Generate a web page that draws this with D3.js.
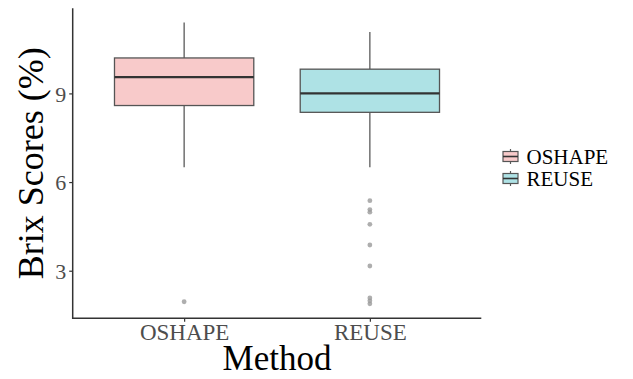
<!DOCTYPE html>
<html>
<head>
<meta charset="utf-8">
<script src="https://cdn.jsdelivr.net/npm/d3@7"></script>
<style>
  body { margin: 0; background: #fff; }
  text { font-family: "Liberation Serif", "Times New Roman", serif; }
</style>
</head>
<body>
<div class="canvas"></div>
<script>
// box stats
const methods = ['OSHAPE', 'REUSE'];
const whiskerLow = [6.50, 6.50];
const q1 = [8.59, 8.36];
const medians = [9.55, 9.00];
const q3 = [10.20, 9.82];
const whiskerHigh = [11.40, 11.08];
const outliers = [
  [1.95],
  [5.37, 5.07, 4.98, 4.57, 3.87, 3.16, 2.08, 1.98, 1.88]
];
const yTicks = [3, 6, 9];
const fills = ['#f8caca', '#aee2e5'];

const dims = {width: 633, height: 379};
const plot = {left: 72.7, right: 481.3, top: 8.3, bottom: 318.3};

const svg = d3.select('.canvas')
  .append('svg')
  .attr('width', dims.width)
  .attr('height', dims.height);

// ggplot style discrete scale: 0.6 expansion each side
const x = d3.scaleLinear().domain([0.4, 2.6]).range([plot.left, plot.right]);
const y = d3.scaleLinear().domain([1.39, 11.88]).range([plot.bottom, plot.top]);
const boxW = 0.75 * (x(2) - x(1));

const boxes = methods.map((m, i) => ({
  name: m, lo: whiskerLow[i], q1: q1[i], med: medians[i], q3: q3[i], hi: whiskerHigh[i],
  out: outliers[i], fill: fills[i], pos: i + 1
}));

const graph = svg.append('g');

const g = graph.selectAll('g.box')
  .data(boxes)
  .enter()
  .append('g')
  .attr('class', 'box');

// whiskers
g.append('line')
  .attr('x1', d => x(d.pos)).attr('x2', d => x(d.pos))
  .attr('y1', d => y(d.hi)).attr('y2', d => y(d.q3))
  .attr('stroke', '#5a5a5a').attr('stroke-width', 1.3);
g.append('line')
  .attr('x1', d => x(d.pos)).attr('x2', d => x(d.pos))
  .attr('y1', d => y(d.q1)).attr('y2', d => y(d.lo))
  .attr('stroke', '#5a5a5a').attr('stroke-width', 1.3);

g.append('rect')
  .attr('x', d => x(d.pos) - boxW / 2)
  .attr('width', boxW)
  .attr('y', d => y(d.q3))
  .attr('height', d => y(d.q1) - y(d.q3))
  .attr('fill', d => d.fill)
  .attr('stroke', '#555')
  .attr('stroke-width', 1.3);

g.append('line')
  .attr('x1', d => x(d.pos) - boxW / 2).attr('x2', d => x(d.pos) + boxW / 2)
  .attr('y1', d => y(d.med)).attr('y2', d => y(d.med))
  .attr('stroke', '#333').attr('stroke-width', 2.4);

g.selectAll('circle')
  .data(d => d.out.map(v => ({pos: d.pos, v: v})))
  .enter()
  .append('circle')
  .attr('cx', d => x(d.pos))
  .attr('cy', d => y(d.v))
  .attr('r', 2.4)
  .attr('fill', '#9a9a9a')
  .attr('fill-opacity', 0.8);

// axes
const yAxis = svg.append('g')
  .attr('transform', `translate(${plot.left},0)`)
  .call(d3.axisLeft(y).tickValues(yTicks).tickSize(3.5).tickPadding(3).tickFormat(d3.format('d')));
yAxis.select('.domain').remove();
yAxis.selectAll('.tick line').attr('stroke', '#333').attr('stroke-width', 1.2);
yAxis.selectAll('.tick text')
  .attr('fill', '#4d4d4d')
  .style('font-size', '22px')
  .attr('dy', '0.35em');

const xAxis = svg.append('g')
  .attr('transform', `translate(0,${plot.bottom})`)
  .call(d3.axisBottom(x).tickValues([1, 2]).tickSize(3.5).tickPadding(2)
    .tickFormat(d => methods[d - 1]));
xAxis.select('.domain').remove();
xAxis.selectAll('.tick line').attr('stroke', '#333').attr('stroke-width', 1.2);
xAxis.selectAll('.tick text')
  .attr('fill', '#4d4d4d')
  .style('font-size', '23px');

svg.append('line')
  .attr('x1', plot.left).attr('x2', plot.left)
  .attr('y1', plot.top).attr('y2', plot.bottom + 0.7)
  .attr('stroke', '#333').attr('stroke-width', 1.5);
svg.append('line')
  .attr('x1', plot.left - 0.7).attr('x2', plot.right)
  .attr('y1', plot.bottom).attr('y2', plot.bottom)
  .attr('stroke', '#333').attr('stroke-width', 1.5);

// titles
svg.append('text')
  .attr('x', (plot.left + plot.right) / 2)
  .attr('y', 370)
  .attr('text-anchor', 'middle')
  .style('font-size', '35px')
  .text('Method');

svg.append('text')
  .attr('transform', `translate(43,${(plot.top + plot.bottom) / 2}) rotate(-90)`)
  .attr('text-anchor', 'middle')
  .style('font-size', '36px')
  .text('Brix Scores (%)');

// legend
const legendGroup = svg.append('g')
  .attr('transform', 'translate(502.5,146)');
const item = legendGroup.selectAll('g')
  .data(boxes)
  .enter()
  .append('g')
  .attr('transform', (d, i) => `translate(0,${i * 22})`);
item.append('line')
  .attr('x1', 8).attr('x2', 8).attr('y1', 3).attr('y2', 18)
  .attr('stroke', '#5a5a5a').attr('stroke-width', 1.2);
item.append('rect')
  .attr('x', 0.5).attr('y', 5.5).attr('width', 15).attr('height', 10)
  .attr('fill', d => d.fill).attr('stroke', '#555').attr('stroke-width', 1.2);
item.append('line')
  .attr('x1', 0.5).attr('x2', 15.5).attr('y1', 10.5).attr('y2', 10.5)
  .attr('stroke', '#333').attr('stroke-width', 1.6);
item.append('text')
  .attr('x', 24)
  .attr('y', 11)
  .attr('dy', '0.35em')
  .style('font-size', '21px')
  .text(d => d.name);
</script>
</body>
</html>
